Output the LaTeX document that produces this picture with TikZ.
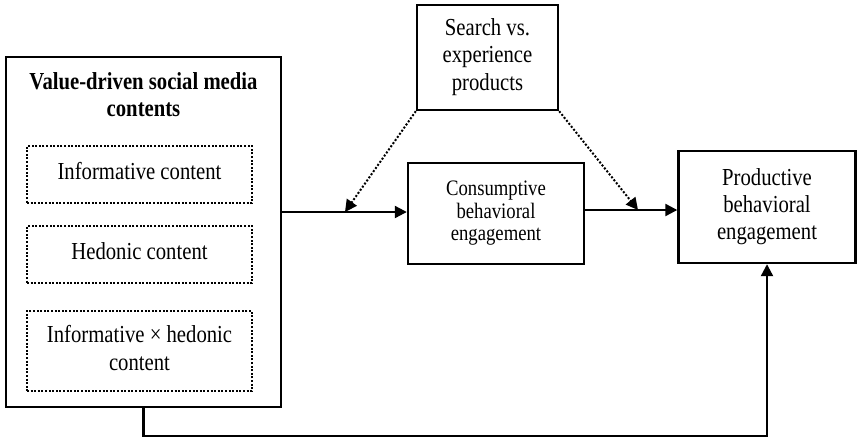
\documentclass[tikz,border=0pt]{standalone}
\usepackage{fontspec}
\usepackage{graphicx}
\setmainfont{Liberation Serif}
\usetikzlibrary{arrows.meta}
\newcommand{\vtx}[1]{\scalebox{1}[1.18]{\begin{tabular}{@{}c@{}}#1\end{tabular}}}
\begin{document}
\begin{tikzpicture}[x=1pt,y=-1pt,
  box/.style={draw, line width=2.4pt, inner sep=0pt, align=center, font=\fontsize{20.7}{23}\selectfont},
  dbox/.style={draw, line width=2pt, dash pattern=on 2pt off 1.6pt, inner sep=0pt, align=center, font=\fontsize{20.7}{23}\selectfont},
  arr/.style={line width=2.2pt, -{Triangle[length=12pt,width=12pt]}},
  dotarr/.style={line width=2pt, dash pattern=on 2pt off 1.8pt, -{Triangle[length=12pt,width=12pt]}}
]
\useasboundingbox (0,0) rectangle (859,439);
\node[box, minimum width=275, minimum height=350] (left) at (143.5,232) {};
\node[align=center, inner sep=0pt, font=\fontsize{20.7}{23}\selectfont\bfseries] (title) at (143.5,98) {\vtx{Value-driven social media\\contents}};
\node[dbox, minimum width=225, minimum height=57] (inf) at (139.5,174.5) {\vtx{Informative content}};
\node[dbox, minimum width=225, minimum height=57] (hed) at (139.5,254.5) {\vtx{Hedonic content}};
\node[dbox, minimum width=225, minimum height=80] (ixh) at (139.5,351) {\vtx{Informative × hedonic\\content}};
\node[box, minimum width=141, minimum height=105] (search) at (487.5,57.5) {\vtx{Search vs.\\experience\\products}};
\node[box, minimum width=176, minimum height=101, font=\fontsize{18.7}{19.2}\selectfont] (cons) at (496,213.5) {\vtx{Consumptive\\behavioral\\engagement}};
\node[box, minimum width=177, minimum height=112] (prod) at (767,207) {\vtx{Productive\\behavioral\\engagement}};
\coordinate (j1) at (345,212);
\coordinate (j2) at (638,210);
\draw[arr] (left.east |- j1) -- (cons.west |- j1);
\draw[arr] (cons.east |- j2) -- (prod.west |- j2);
\draw[dotarr] (search.south west) -- (j1);
\draw[dotarr] (search.south east) -- (j2);
\draw[arr] (left.south) -- ++(0,28) -| (prod.south);
\end{tikzpicture}
\end{document}
